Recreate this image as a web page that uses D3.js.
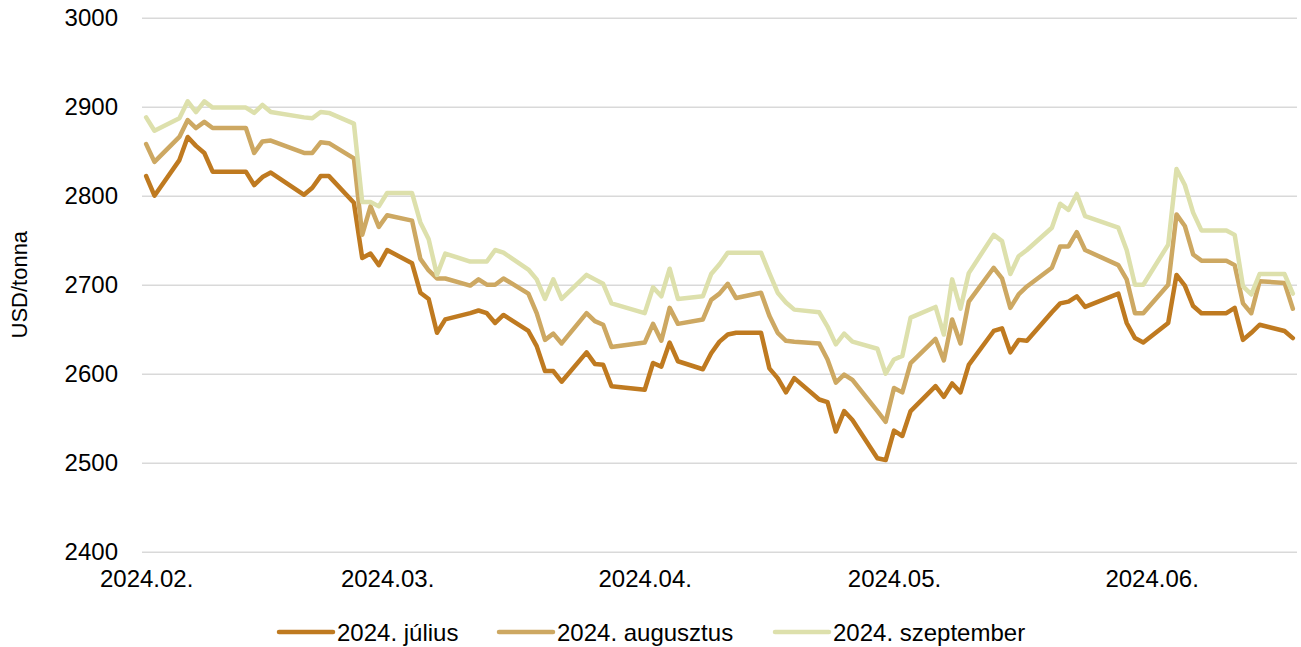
<!DOCTYPE html>
<html>
<head>
<meta charset="utf-8">
<script src="https://cdn.jsdelivr.net/npm/d3@7"></script>
<style>
  html, body { margin: 0; padding: 0; background: #ffffff; }
  svg { display: block; }
  text { font-family: "Liberation Sans", Arial, sans-serif; fill: #000; }
</style>
</head>
<body>
<svg id="chart" width="1301" height="647"></svg>
<script>
// Trading days (Feb 1 – Jun 18, 2024)
const dates = [
  "2024-02-01","2024-02-02","2024-02-05","2024-02-06","2024-02-07","2024-02-08","2024-02-09",
  "2024-02-12","2024-02-13","2024-02-14","2024-02-15","2024-02-16","2024-02-20","2024-02-21",
  "2024-02-22","2024-02-23","2024-02-26","2024-02-27","2024-02-28","2024-02-29",
  "2024-03-01","2024-03-04","2024-03-05","2024-03-06","2024-03-07","2024-03-08","2024-03-11",
  "2024-03-12","2024-03-13","2024-03-14","2024-03-15","2024-03-18","2024-03-19","2024-03-20",
  "2024-03-21","2024-03-22","2024-03-25","2024-03-26","2024-03-27","2024-03-28",
  "2024-04-01","2024-04-02","2024-04-03","2024-04-04","2024-04-05","2024-04-08","2024-04-09",
  "2024-04-10","2024-04-11","2024-04-12","2024-04-15","2024-04-16","2024-04-17","2024-04-18",
  "2024-04-19","2024-04-22","2024-04-23","2024-04-24","2024-04-25","2024-04-26","2024-04-29",
  "2024-04-30",
  "2024-05-01","2024-05-02","2024-05-03","2024-05-06","2024-05-07","2024-05-08","2024-05-09",
  "2024-05-10","2024-05-13","2024-05-14","2024-05-15","2024-05-16","2024-05-17","2024-05-20",
  "2024-05-21","2024-05-22","2024-05-23","2024-05-24","2024-05-28","2024-05-29","2024-05-30",
  "2024-05-31",
  "2024-06-03","2024-06-04","2024-06-05","2024-06-06","2024-06-07","2024-06-10","2024-06-11",
  "2024-06-12","2024-06-13","2024-06-14","2024-06-17","2024-06-18"
];

// Futures prices, USD/tonna, by delivery month
const julius = [
  2822,2800,2840,2866,2856,2848,2827,2827,2827,2812,2821,2826,2801,2809,2822,2822,2792,2730,2735,2722,
  2739,2724,2691,2684,2646,2661,2668,2671,2668,2657,2666,2648,2631,2603,2603,2591,2624,2611,2610,2586,
  2582,2612,2608,2635,2614,2605,2623,2636,2644,2646,2646,2606,2595,2579,2595,2571,2568,2535,2558,2548,2505,2503,
  2536,2530,2558,2586,2574,2589,2579,2610,2648,2651,2624,2638,2637,2669,2679,2681,2687,2675,2690,2657,2640,2635,
  2657,2711,2699,2676,2668,2668,2674,2638,2646,2655,2648,2640
];
const augusztus = [
  2858,2838,2866,2885,2876,2883,2876,2876,2876,2848,2861,2862,2848,2848,2860,2859,2842,2756,2788,2765,
  2778,2772,2729,2716,2707,2707,2699,2706,2700,2700,2707,2690,2668,2638,2645,2634,2668,2659,2655,2630,
  2635,2656,2637,2674,2656,2661,2683,2690,2701,2685,2691,2665,2646,2637,2636,2634,2616,2590,2599,2593,2558,2546,
  2584,2579,2612,2639,2615,2661,2634,2681,2719,2707,2674,2689,2698,2719,2743,2743,2759,2739,2722,2706,2668,2668,
  2700,2779,2766,2734,2727,2727,2722,2679,2668,2704,2702,2673
];
const szeptember = [
  2888,2873,2887,2906,2894,2906,2899,2899,2899,2893,2902,2894,2888,2887,2894,2893,2881,2793,2793,2788,
  2803,2803,2770,2751,2711,2735,2726,2726,2726,2739,2736,2717,2706,2684,2706,2684,2711,2706,2701,2679,
  2668,2697,2687,2718,2684,2687,2712,2723,2736,2736,2736,2713,2691,2680,2672,2669,2653,2633,2645,2636,2628,2600,
  2616,2620,2663,2675,2644,2706,2673,2713,2756,2749,2712,2732,2739,2764,2791,2784,2802,2777,2764,2739,2700,2700,
  2745,2830,2812,2781,2761,2761,2756,2698,2689,2712,2712,2690
];

const seriesNames = ["2024. július", "2024. augusztus", "2024. szeptember"];
const seriesColors = ["#BF7A20", "#CDA862", "#DDE0AC"];
const yTicks = [2400, 2500, 2600, 2700, 2800, 2900, 3000];
const monthTicks = ["2024-02-01", "2024-03-01", "2024-04-01", "2024-05-01", "2024-06-01"];

const parse = d3.utcParse("%Y-%m-%d");
const days = dates.map(parse);
const halfDay = 12 * 3600 * 1000;

const plot = { left: 142, right: 1297, top: 17.7, bottom: 551.7 };
const fontSize = 24;

const svg = d3.select("#chart");

const x = d3.scaleUtc()
  .domain([new Date(days[0].getTime() - halfDay), new Date(days[days.length - 1].getTime() + halfDay)])
  .range([plot.left, plot.right]);

const y = d3.scaleLinear()
  .domain([2400, 3000])
  .range([plot.bottom, plot.top]);

// Horizontal gridlines with value labels
const yAxis = svg.append("g")
  .attr("transform", `translate(${plot.left},0)`)
  .call(d3.axisLeft(y)
    .tickValues(yTicks)
    .tickFormat(d3.format("d"))
    .tickSize(-(plot.right - plot.left))
    .tickPadding(24));
yAxis.select(".domain").remove();
yAxis.selectAll(".tick line").attr("stroke", "#D9D9D9").attr("stroke-width", 1.4);
yAxis.selectAll(".tick text")
  .style("font-family", '"Liberation Sans", Arial, sans-serif')
  .style("font-size", fontSize + "px")
  .attr("fill", "#000");

// Month labels along the bottom
const xAxis = svg.append("g")
  .attr("transform", `translate(0,${plot.bottom})`)
  .call(d3.axisBottom(x)
    .tickValues(monthTicks.map(parse))
    .tickFormat(d3.utcFormat("%Y.%m."))
    .tickSize(0)
    .tickPadding(18));
xAxis.select(".domain").remove();
xAxis.selectAll(".tick text")
  .style("font-family", '"Liberation Sans", Arial, sans-serif')
  .style("font-size", fontSize + "px")
  .attr("fill", "#000");

// Axis title
svg.append("text")
  .attr("transform", `translate(27,${(plot.top + plot.bottom) / 2}) rotate(-90)`)
  .attr("text-anchor", "middle")
  .style("font-size", "22px")
  .text("USD/tonna");

// Price lines
const seriesValues = [julius, augusztus, szeptember];
const line = d3.line()
  .x((d, i) => x(days[i]))
  .y(d => y(d));

svg.append("g")
  .selectAll("path")
  .data(seriesValues)
  .join("path")
  .attr("fill", "none")
  .attr("stroke", (d, i) => seriesColors[i])
  .attr("stroke-width", 4.5)
  .attr("stroke-linejoin", "round")
  .attr("stroke-linecap", "round")
  .attr("d", line);

// Legend
const legendY = 632;
const legendX = [279, 499, 775];
const legend = svg.append("g");
seriesNames.forEach((name, i) => {
  legend.append("line")
    .attr("x1", legendX[i]).attr("x2", legendX[i] + 54)
    .attr("y1", legendY).attr("y2", legendY)
    .attr("stroke", seriesColors[i])
    .attr("stroke-width", 4.5)
    .attr("stroke-linecap", "round");
  legend.append("text")
    .attr("x", legendX[i] + 58)
    .attr("y", legendY)
    .attr("dy", "0.36em")
    .style("font-size", fontSize + "px")
    .text(name);
});
</script>
</body>
</html>
